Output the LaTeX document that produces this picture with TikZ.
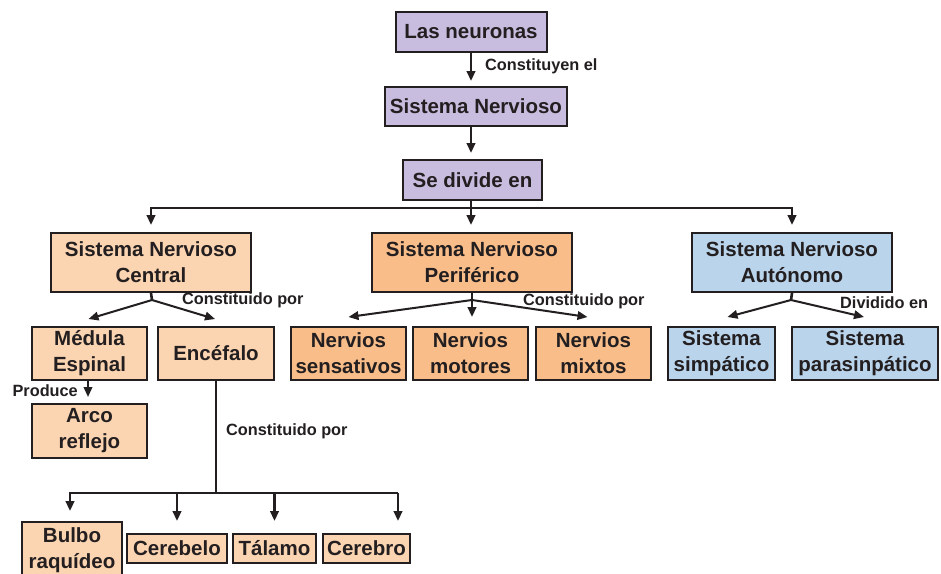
\documentclass[tikz,border=0pt]{standalone}
\usepackage{fontspec}
\setmainfont{Liberation Sans}
\usetikzlibrary{arrows.meta}
\definecolor{lav}{HTML}{C8BDDF}
\definecolor{peachL}{HTML}{FBD4B1}
\definecolor{peachD}{HTML}{F9BD8A}
\definecolor{blueL}{HTML}{BAD4EC}
\definecolor{ink}{HTML}{231F20}
\tikzset{
  box/.style={draw=ink, line width=2pt, inner sep=0pt, align=center, text=ink,
    font=\fontsize{20.5}{26}\selectfont\bfseries},
  lbl/.style={text=ink, inner sep=0pt, font=\fontsize{16.3}{19}\selectfont\bfseries},
  ln/.style={draw=ink, line width=2.6pt},
  arr/.style={draw=ink, line width=2.6pt, -{Triangle[length=10pt,width=8.5pt]}},
  arrd/.style={draw=ink, line width=2pt, -{Triangle[length=10pt,width=8.5pt]}},
}
\begin{document}
\begin{tikzpicture}[x=1pt,y=-1pt]
\clip (0,0) rectangle (941,573);
\fill[white] (0,0) rectangle (941,573);
% top chain
\node[box, fill=lav, minimum width=151pt, minimum height=40pt] (neur) at (471,32) {Las neuronas};
\node[box, fill=lav, minimum width=182pt, minimum height=39pt] (sn) at (476,106.5) {Sistema Nervioso};
\node[box, fill=lav, minimum width=139pt, minimum height=40pt] (div) at (472.5,180) {Se divide en};
% second level
\node[box, fill=peachL, minimum width=200pt, minimum height=59pt] (snc) at (151,262.5) {Sistema Nervioso\\Central};
\node[box, fill=peachD, minimum width=200pt, minimum height=59pt] (snp) at (472,262.5) {Sistema Nervioso\\Perif\'erico};
\node[box, fill=blueL, minimum width=200pt, minimum height=59pt] (sna) at (792,262.5) {Sistema Nervioso\\Aut\'onomo};
% third level
\node[box, fill=peachL, minimum width=115pt, minimum height=53pt] (med) at (89.5,353.5) {M\'edula\\Espinal};
\node[box, fill=peachL, minimum width=116pt, minimum height=53pt] (enc) at (216,353.5) {Enc\'efalo};
\node[box, fill=peachD, minimum width=115pt, minimum height=53pt] (sens) at (348.5,353.5) {Nervios\\sensativos};
\node[box, fill=peachD, minimum width=115pt, minimum height=53pt] (mot) at (470.5,353.5) {Nervios\\motores};
\node[box, fill=peachD, minimum width=115pt, minimum height=53pt] (mix) at (593.5,353.5) {Nervios\\mixtos};
\node[box, fill=blueL, minimum width=107pt, minimum height=53pt] (simp) at (721.5,353.5) {Sistema\\simp\'atico};
\node[box, fill=blueL, minimum width=146pt, minimum height=53pt] (para) at (865,353.5) {Sistema\\parasinp\'atico};
\node[box, fill=peachL, minimum width=115pt, minimum height=54pt] (arco) at (89.5,431) {Arco\\reflejo};
% bottom row
\node[box, fill=peachL, minimum width=100pt, minimum height=56pt] (bulbo) at (72,550) {Bulbo\\raqu\'ideo};
\node[box, fill=peachL, minimum width=100pt, minimum height=29pt] (cerebelo) at (177,548.5) {Cerebelo};
\node[box, fill=peachL, minimum width=83pt, minimum height=29pt] (talamo) at (274.5,548.5) {T\'alamo};
\node[box, fill=peachL, minimum width=87pt, minimum height=29pt] (cerebro) at (366.5,548.5) {Cerebro};
% labels
\node[lbl, anchor=west] (l1) at (485,66) {Constituyen el};
\node[lbl, anchor=west] (l2) at (182,300) {Constituido por};
\node[lbl, anchor=east] (l3) at (78,391) {Produce};
\node[lbl, anchor=west] (l4) at (226,431) {Constituido por};
\node[lbl, anchor=west] (l5) at (523,301) {Constituido por};
\node[lbl, anchor=west] (l6) at (840,303) {Dividido en};
% top connectors
\draw[arr, shorten >=5pt] (neur.south) -- (neur.south |- sn.north);
\draw[arr, shorten >=6pt] (neur.south |- sn.south) -- (neur.south |- div.north);
\coordinate (hub) at (471,208);
\draw[ln] (neur.south |- div.south) -- (hub);
\draw[arr, shorten >=7pt] (hub) -| (snc.north);
\draw[arr, shorten >=7pt] (hub) -- (hub |- snp.north);
\draw[arr, shorten >=7pt] (hub) -| (sna.north);
% SNC
\coordinate (c1) at (152,300);
\draw[ln] (snc.south) -- (c1);
\draw[arrd] (c1) -- ([xshift=-1pt,yshift=7pt]med.north);
\draw[arrd] (c1) -- ([xshift=-1pt,yshift=7pt]enc.north);
\draw[arrd] ([xshift=-1.5pt]med.south) -- ([xshift=-1.5pt,yshift=6pt]arco.north);
% Encefalo
\coordinate (eh) at (216,493);
\coordinate (er) at (398,493);
\draw[ln] (enc.south) -- (eh);
\draw[ln] (eh) -- (er);
\draw[arr, shorten >=10pt] (eh) -| ([xshift=-2pt]bulbo.north);
\draw[arr, shorten >=12pt] (eh) -| (cerebelo.north);
\draw[arr, shorten >=12pt] (eh) -| (talamo.north);
\draw[arr, shorten >=12pt] (er) -- (er |- cerebro.north);
% SNP
\coordinate (p1) at (472,300);
\draw[ln] (snp.south) -- (p1);
\draw[arrd] (p1) -- ([yshift=9pt]sens.north);
\draw[arr, shorten >=9pt] (p1) -- (p1 |- mot.north);
\draw[arrd] (p1) -- ([xshift=-6pt,yshift=9pt]mix.north);
% SNA
\coordinate (a1) at (791,300);
\draw[ln] (sna.south) -- (a1);
\draw[arrd] (a1) -- ([xshift=6pt,yshift=9pt]simp.north);
\draw[arrd] (a1) -- ([xshift=-1pt,yshift=9pt]para.north);
\end{tikzpicture}
\end{document}
